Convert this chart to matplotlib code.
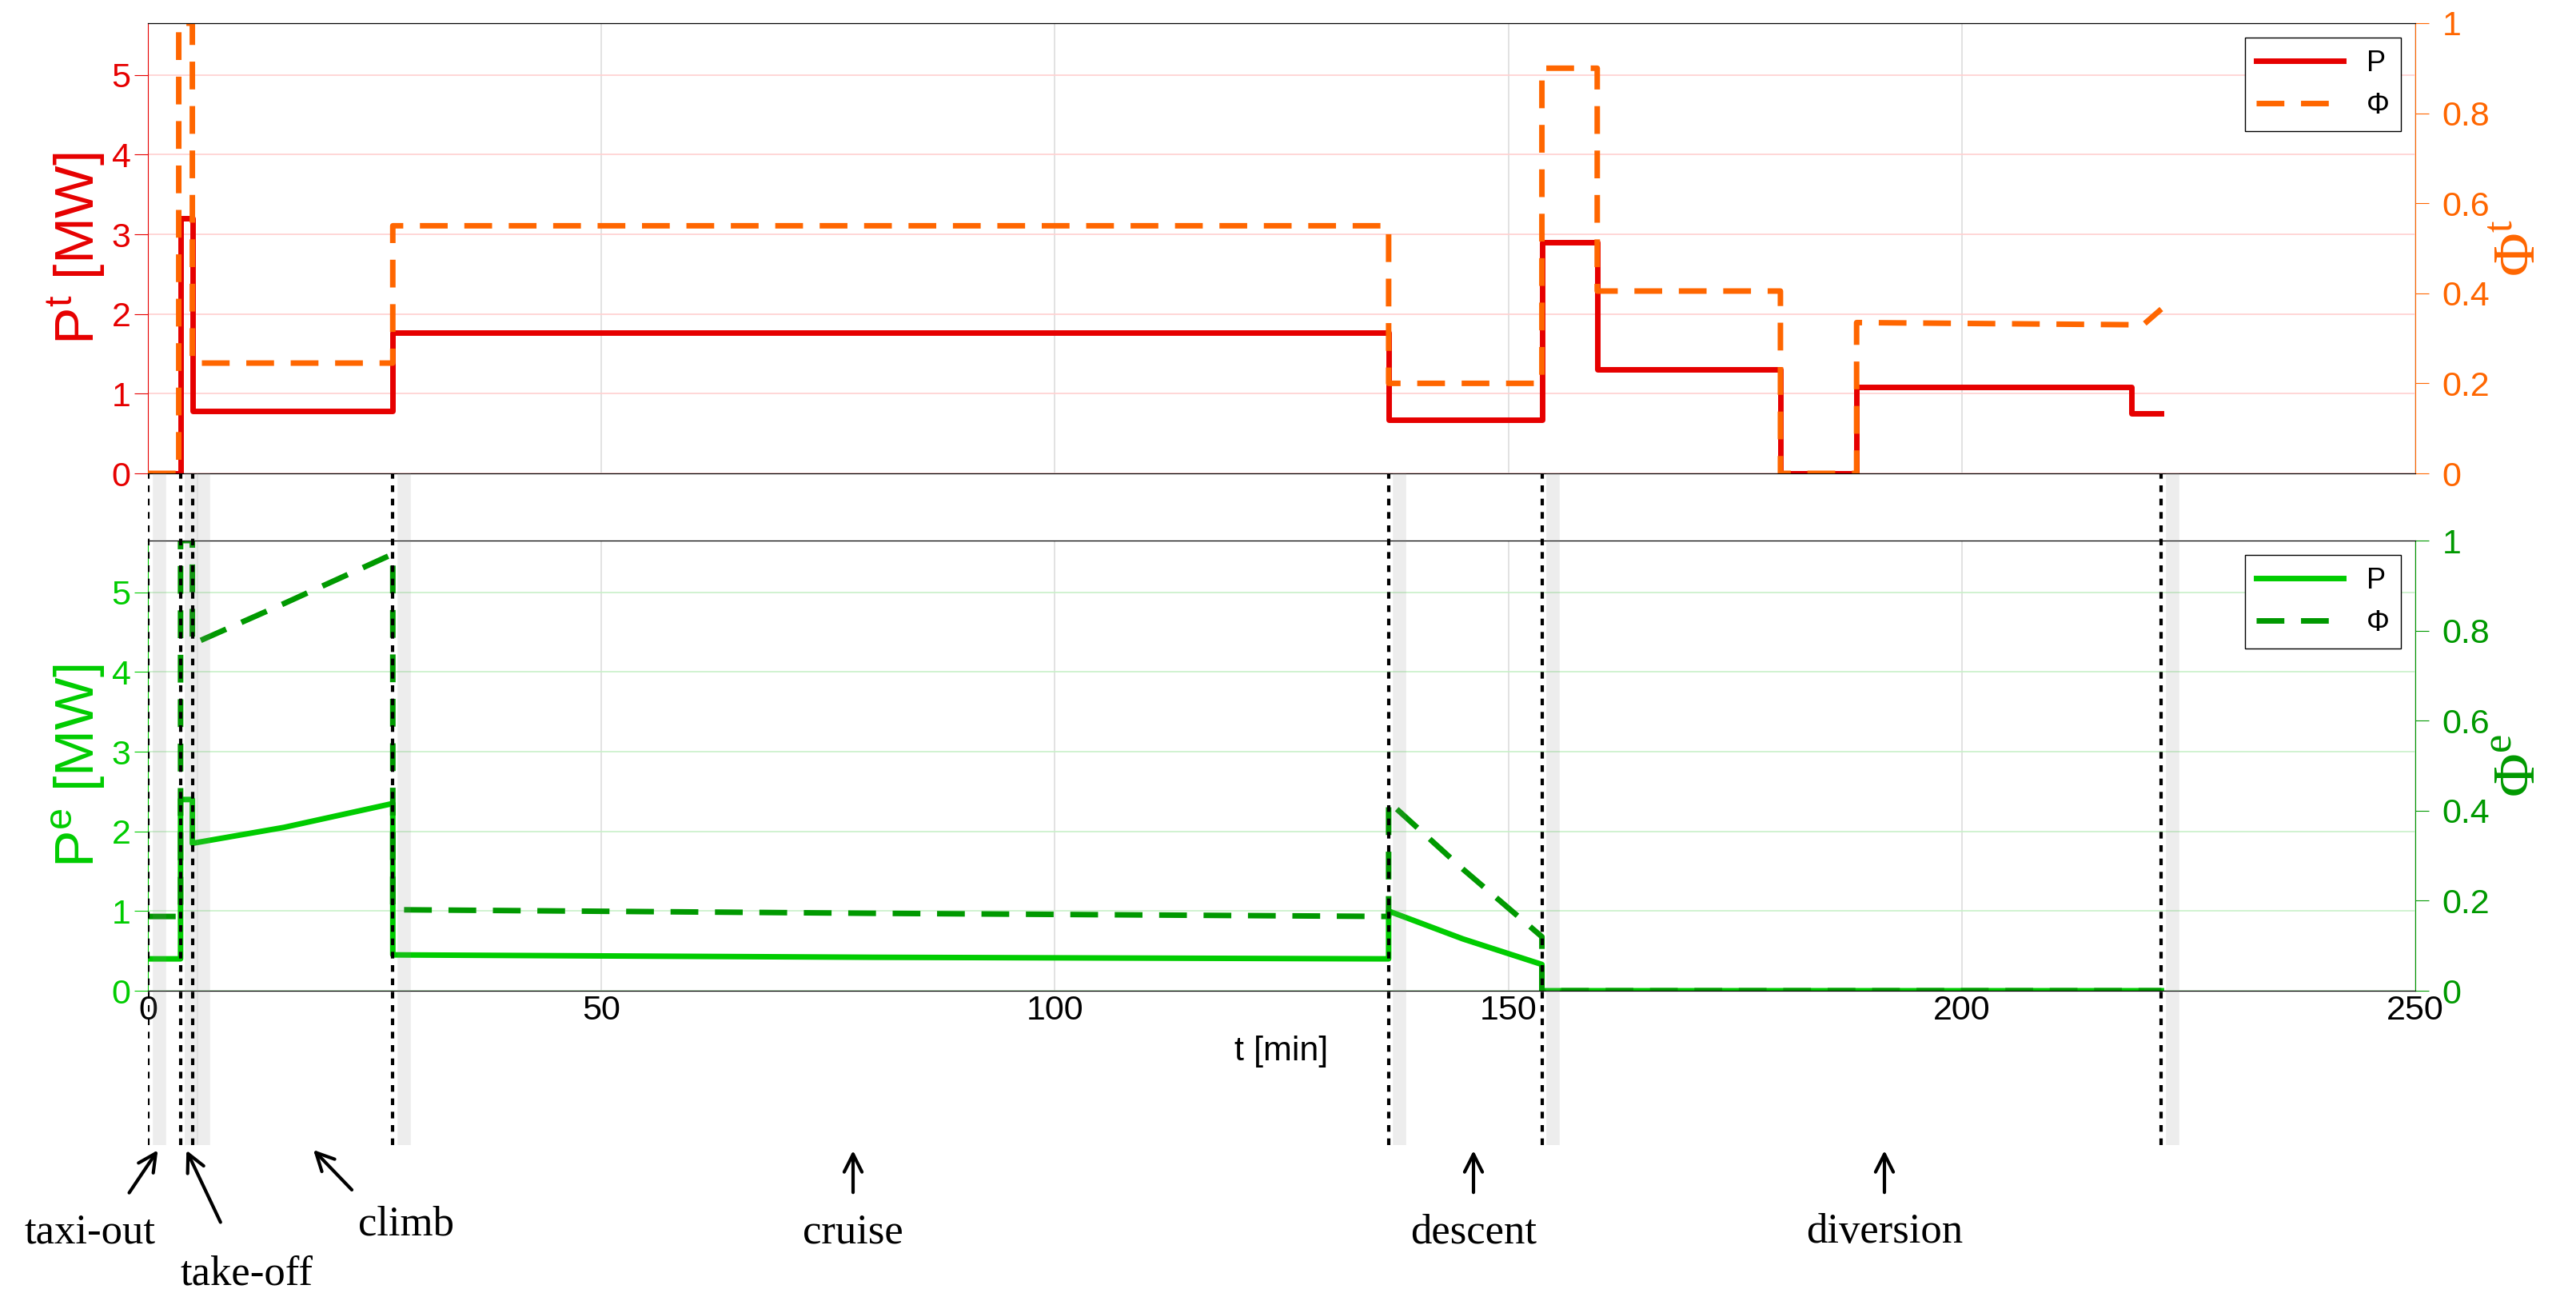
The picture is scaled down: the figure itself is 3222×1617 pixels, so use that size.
import matplotlib.pyplot as plt

# top panel (thermal)
t_top = [0, 3.6, 3.6, 4.9, 4.9, 27, 27, 136.8, 136.8, 153.7, 153.7, 159.8, 159.8, 180, 180, 188.4, 188.4, 218.7, 218.7, 222]
p_top = [0, 0, 3.2, 3.2, 0.78, 0.78, 1.77, 1.77, 0.67, 0.67, 2.9, 2.9, 1.3, 1.3, 0, 0, 1.08, 1.08, 0.75, 0.75]
t_phi_top = [0, 3.4, 3.4, 4.9, 4.9, 27, 27, 136.8, 136.8, 153.7, 153.7, 159.8, 159.8, 180, 180, 188.4, 188.4, 220, 222]
phi_top = [0, 0, 1.0, 1.0, 0.245, 0.245, 0.55, 0.55, 0.2, 0.2, 0.9, 0.9, 0.405, 0.405, 0, 0, 0.335, 0.33, 0.365]

# bottom panel (electric)
t_bot = [0, 3.6, 3.6, 4.9, 4.9, 15, 27, 27, 80, 136.8, 136.8, 145, 153.7, 153.7, 222]
p_bot = [0.4, 0.4, 2.4, 2.4, 1.85, 2.05, 2.35, 0.45, 0.42, 0.4, 1.0, 0.65, 0.33, 0, 0]
phi_bot = [0.165, 0.165, 1.0, 1.0, 0.77, 0.86, 0.97, 0.18, 0.172, 0.165, 0.42, 0.27, 0.12, 0, 0]

phase_t = [0, 3.6, 4.9, 27, 136.8, 153.7, 222]

W, H = 3222, 1617
fig = plt.figure(figsize=(W / 100, H / 100), dpi=100)
plt.rcParams['font.family'] = ['Liberation Sans', 'DejaVu Sans']

left, right = 185 / W, 3021 / W
ax1 = fig.add_axes([left, 1 - 592 / H, right - left, (592 - 29) / H])
ax2 = fig.add_axes([left, 1 - 1239 / H, right - left, (1239 - 676) / H])
ymax = 5.65

red, orange = '#e60000', '#ff6600'
green, dgreen = '#00cc00', '#009900'
dash = (0, (5, 3))


def style(ax, c_left, c_right, grid_c):
    ax.set_xlim(0, 250)
    ax.set_ylim(0, ymax)
    ax.set_yticks(range(6))
    ax.tick_params(axis='y', colors=c_left, labelsize=31, length=12)
    ax.spines['left'].set_color(c_left)
    ax.spines['right'].set_visible(False)
    ax.xaxis.grid(True, color='#dddddd', lw=1.2)
    ax.yaxis.grid(True, color=grid_c, lw=1.2)
    ax.set_axisbelow(True)
    axr = ax.twinx()
    axr.set_ylim(0, 1)
    axr.set_yticks([0, 0.2, 0.4, 0.6, 0.8, 1])
    axr.set_yticklabels(['0', '0.2', '0.4', '0.6', '0.8', '1'])
    axr.tick_params(axis='y', colors=c_right, labelsize=31, length=12, pad=12)
    axr.spines['right'].set_color(c_right)
    axr.spines['left'].set_visible(False)
    return axr


ax1r = style(ax1, red, orange, '#ffd0d0')
ax1.tick_params(axis='x', labelbottom=False, length=0)
l1, = ax1.plot(t_top, p_top, color=red, lw=5)
l2, = ax1r.plot(t_phi_top, phi_top, color=orange, lw=5, ls=dash)
ax1.set_ylabel('P$^\\mathregular{t}$ [MW]', color=red, fontsize=50)
ax1r.set_ylabel('Φ$^\\mathregular{t}$', color=orange, fontsize=54, family='Liberation Serif')
ax1r.legend([l1, l2], ['P', 'Φ'], loc='upper right', fontsize=26, handlelength=3,
            fancybox=False, edgecolor='black', framealpha=1)

ax2r = style(ax2, green, dgreen, '#c8f0c8')
ax2.tick_params(axis='x', labelsize=31, length=0)
l3, = ax2.plot(t_bot, p_bot, color=green, lw=5)
l4, = ax2r.plot(t_bot, phi_bot, color=dgreen, lw=5, ls=dash)
ax2.set_ylabel('P$^\\mathregular{e}$ [MW]', color=green, fontsize=50)
ax2r.set_ylabel('Φ$^\\mathregular{e}$', color=dgreen, fontsize=54, family='Liberation Serif')
ax2.set_xlabel('t [min]', fontsize=31, labelpad=8)
ax2r.legend([l3, l4], ['P', 'Φ'], loc='upper right', fontsize=26, handlelength=3,
            fancybox=False, edgecolor='black', framealpha=1)

# phase boundary lines
ov = fig.add_axes([left, 1 - 1432 / H, right - left, (1432 - 592) / H])
ov.set_xlim(0, 250)
ov.set_ylim(0, 1)
ov.axis('off')
ov.patch.set_alpha(0)
for t in phase_t:
    ov.axvline(t + 1.2, color='#888888', lw=12, alpha=0.15)
    ov.axvline(t, color='black', lw=3, ls=(0, (2, 2)))

# phase labels with arrows (figure pixel coords, y from top)
labels_px = [
    ('taxi-out', (113, 1541), (160, 1494), (199, 1436)),
    ('take-off', (308, 1593), (277, 1531), (232, 1436)),
    ('climb', (508, 1531), (442, 1490), (390, 1436)),
    ('cruise', (1067, 1541), (1067, 1494), (1067, 1436)),
    ('descent', (1843, 1541), (1843, 1494), (1843, 1436)),
    ('diversion', (2357, 1541), (2357, 1494), (2357, 1436)),
]
for name, (tx, ty), (sx, sy), (hx, hy) in labels_px:
    fig.text(tx / W, 1 - ty / H, name, ha='center', va='center', fontsize=38,
             family='Liberation Serif')
    fig.add_artist(plt.Annotation('', xy=(hx / W, 1 - hy / H), xytext=(sx / W, 1 - sy / H),
                                  xycoords='figure fraction', textcoords='figure fraction',
                                  arrowprops=dict(arrowstyle='->', lw=3, color='black',
                                                  mutation_scale=40)))

fig.savefig('out.png', dpi=100, facecolor='white')
